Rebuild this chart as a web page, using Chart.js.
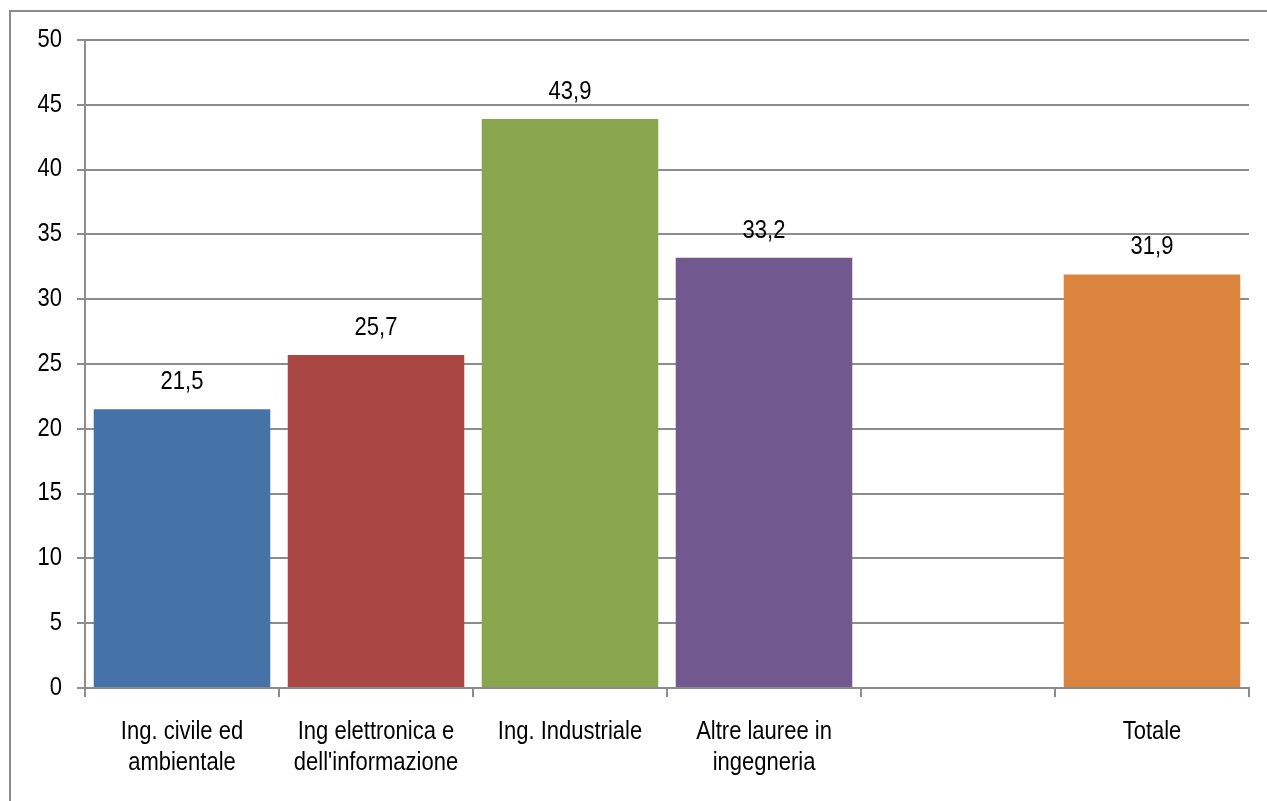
<!DOCTYPE html>
<html>
<head>
<meta charset="utf-8">
<title>Ingegneria</title>
<script src="https://cdn.jsdelivr.net/npm/chart.js@4/dist/chart.umd.min.js"></script>
<style>
  html, body { margin: 0; padding: 0; background: #fff; }
  #wrap { position: relative; width: 1267px; height: 801px; }
</style>
</head>
<body>
<div id="wrap"><canvas id="chart" width="1267" height="801"></canvas></div>
<script>
// categories and values
const categories = [
  ['Ing. civile ed', 'ambientale'],
  ['Ing elettronica e', "dell'informazione"],
  ['Ing. Industriale'],
  ['Altre lauree in', 'ingegneria'],
  [''],
  ['Totale']
];
const values = [21.5, 25.7, 43.9, 33.2, null, 31.9];
const barColors = ['#4573a7', '#aa4644', '#89a54e', '#71588f', '#ffffff', '#db843d'];
const yTicks = [0, 5, 10, 15, 20, 25, 30, 35, 40, 45, 50];

const FONT = '"Liberation Sans", Arial, sans-serif';
const FONT_SIZE = 25;
const SQUEEZE = 0.88;   // narrow look for all the text
const GRID = '#8c8c8c';

// draws a horizontally squeezed string
function narrowText(ctx, str, x, y, align) {
  ctx.save();
  ctx.translate(x, y);
  ctx.scale(SQUEEZE, 1);
  ctx.textAlign = align;
  ctx.fillText(str, 0, 0);
  ctx.restore();
}

// outer frame of the chart
const framePlugin = {
  id: 'frame',
  beforeDraw(chart) {
    const ctx = chart.ctx;
    ctx.save();
    ctx.strokeStyle = '#8a8a8a';
    ctx.lineWidth = 2;
    ctx.strokeRect(10, 11, 1270, 800);
    ctx.restore();
  }
};

// axis labels and value labels, all in the narrow style
const textPlugin = {
  id: 'texts',
  afterDatasetsDraw(chart) {
    const ctx = chart.ctx;
    const xs = chart.scales.x, ys = chart.scales.y;
    ctx.save();
    ctx.font = FONT_SIZE + 'px ' + FONT;
    ctx.fillStyle = '#000';
    ctx.textBaseline = 'middle';

    yTicks.forEach(v => {
      narrowText(ctx, String(v), ys.right - 23, ys.getPixelForValue(v), 'right');
    });

    categories.forEach((lines, i) => {
      const x = xs.getPixelForValue(i);
      lines.forEach((line, j) => {
        narrowText(ctx, line, x, xs.top + 44 + j * 31, 'center');
      });
    });

    const meta = chart.getDatasetMeta(0);
    meta.data.forEach((bar, i) => {
      const v = values[i];
      if (v == null) return;
      narrowText(ctx, v.toFixed(1).replace('.', ','), bar.x, bar.y - 27, 'center');
    });
    ctx.restore();
  }
};

new Chart(document.getElementById('chart'), {
  type: 'bar',
  data: {
    labels: categories,
    datasets: [{
      data: values,
      backgroundColor: barColors,
      borderWidth: 0,
      barPercentage: 1,
      categoryPercentage: 0.91
    }]
  },
  options: {
    responsive: false,
    animation: false,
    layout: { padding: { top: 40, right: 18, left: 0, bottom: 0 } },
    plugins: { legend: { display: false }, tooltip: { enabled: false } },
    scales: {
      x: {
        grid: { drawOnChartArea: false, drawTicks: true, tickLength: 9, color: GRID, lineWidth: 2, offset: true },
        border: { color: GRID, width: 2 },
        ticks: { color: 'rgba(0,0,0,0)', maxRotation: 0, autoSkip: false },
        afterFit(scale) { scale.height = 113; }
      },
      y: {
        min: 0,
        max: 50,
        afterBuildTicks(scale) { scale.ticks = yTicks.map(v => ({ value: v })); },
        grid: { color: GRID, lineWidth: 2, tickLength: 8 },
        border: { color: GRID, width: 2 },
        ticks: { color: 'rgba(0,0,0,0)' },
        afterFit(scale) { scale.width = 85; }
      }
    }
  },
  plugins: [framePlugin, textPlugin]
});
</script>
</body>
</html>
